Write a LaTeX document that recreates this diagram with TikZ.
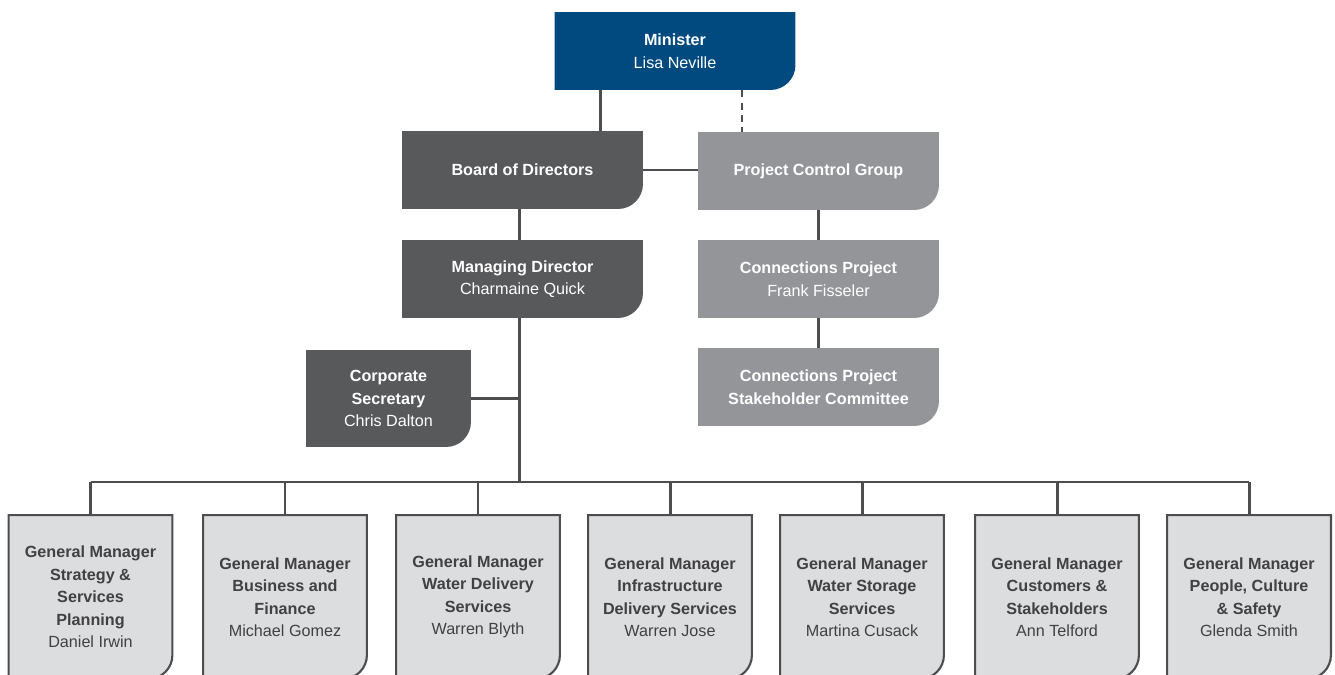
\documentclass[tikz,border=0pt]{standalone}
\usepackage{fontspec}
\setmainfont{Liberation Sans}

\definecolor{minblue}{HTML}{004A80}
\definecolor{darkbox}{HTML}{58595B}
\definecolor{lightbox}{HTML}{939598}
\definecolor{gmfill}{HTML}{DCDDDE}
\definecolor{linegray}{HTML}{4D4D4F}
\definecolor{gmtext}{HTML}{414042}

\newcommand{\tabr}{0.5cm}

\tikzset{
  % box with the lower right corner rounded off
  tab/.style={inner sep=0pt, align=center, text=white,
    minimum width=4.82cm, minimum height=1.56cm,
    font=\fontsize{9.2}{12.8}\selectfont,
    path picture={
      \fill[#1] (path picture bounding box.north west)
        -- (path picture bounding box.north east)
        -- ([yshift=\tabr]path picture bounding box.south east)
        arc[start angle=0, end angle=-90, radius=\tabr]
        -- (path picture bounding box.south west) -- cycle;}},
  gmtab/.style={inner sep=0pt, align=center, text=gmtext,
    minimum width=3.32cm, minimum height=3.32cm,
    font=\fontsize{9.2}{12.8}\selectfont,
    path picture={
      \filldraw[fill=gmfill, draw=linegray, line width=1.2pt]
        ([shift={(.6pt,-.6pt)}]path picture bounding box.north west)
        -- ([shift={(-.6pt,-.6pt)}]path picture bounding box.north east)
        -- ([shift={(-.6pt,\tabr)}]path picture bounding box.south east)
        arc[start angle=0, end angle=-90, radius=\tabr-.6pt]
        -- ([shift={(.6pt,.6pt)}]path picture bounding box.south west) -- cycle;}},
  link/.style={draw=linegray, line width=1.7pt},
}

\begin{document}
\begin{tikzpicture}[x=0.02cm, y=-0.02cm]

\useasboundingbox (0,0) rectangle (1335,675);

\node[tab=minblue] (min) at (675,51) {\textbf{Minister}\\Lisa Neville};

\node[tab=darkbox] (bod) at (522.5,170) {\textbf{Board of Directors}};
\node[tab=lightbox] (pcg) at (818.5,171) {\textbf{Project Control Group}};

\node[tab=darkbox] (md) at (522.5,279) {\textbf{Managing Director}\\Charmaine Quick};
\node[tab=lightbox] (cp) at (818.5,279) {\textbf{Connections Project}\\Frank Fisseler};
\node[tab=lightbox] (sc) at (818.5,387) {\textbf{Connections Project}\\\textbf{Stakeholder Committee}};

\node[tab=darkbox, minimum width=3.3cm, minimum height=1.94cm] (cs) at (388.5,398.5)
  {\textbf{Corporate}\\\textbf{Secretary}\\Chris Dalton};

% general managers
\foreach \i/\x/\txt in {
  1/90.5/{\textbf{General Manager}\\\textbf{Strategy \&}\\\textbf{Services}\\\textbf{Planning}\\Daniel Irwin},
  2/285/{\textbf{General Manager}\\\textbf{Business and}\\\textbf{Finance}\\Michael Gomez},
  3/478/{\textbf{General Manager}\\\textbf{Water Delivery}\\\textbf{Services}\\Warren Blyth},
  4/670/{\textbf{General Manager}\\\textbf{Infrastructure}\\\textbf{Delivery Services}\\Warren Jose},
  5/862/{\textbf{General Manager}\\\textbf{Water Storage}\\\textbf{Services}\\Martina Cusack},
  6/1057/{\textbf{General Manager}\\\textbf{Customers \&}\\\textbf{Stakeholders}\\Ann Telford},
  7/1249/{\textbf{General Manager}\\\textbf{People, Culture}\\\textbf{\& Safety}\\Glenda Smith}}
  \node[gmtab] (gm\i) at (\x,597) {\txt};

\coordinate (bus) at (519,482);

\draw[link] (min.south -| 600,0) -- (bod.north -| 600,0);
\draw[draw=linegray, line width=1.1pt, dash pattern=on 4pt off 3pt]
  (min.south -| 742,0) -- (pcg.north -| 742,0);
\draw[link] (bod.east) -- (bod.east -| pcg.west);
\draw[link] (pcg.south) -- (cp.north);
\draw[link] (cp.south) -- (sc.north);
\draw[link] (bod.south -| bus) -- (md.north -| bus);
\draw[link] (md.south -| bus) -- (bus);
\draw[link] (cs.east) -- (cs.east -| bus);
\draw[link] (gm1.north |- bus) -- (gm7.north |- bus);
\foreach \i in {1,...,7}
  \draw[link] (gm\i.north |- bus) -- (gm\i.north);

\end{tikzpicture}
\end{document}
